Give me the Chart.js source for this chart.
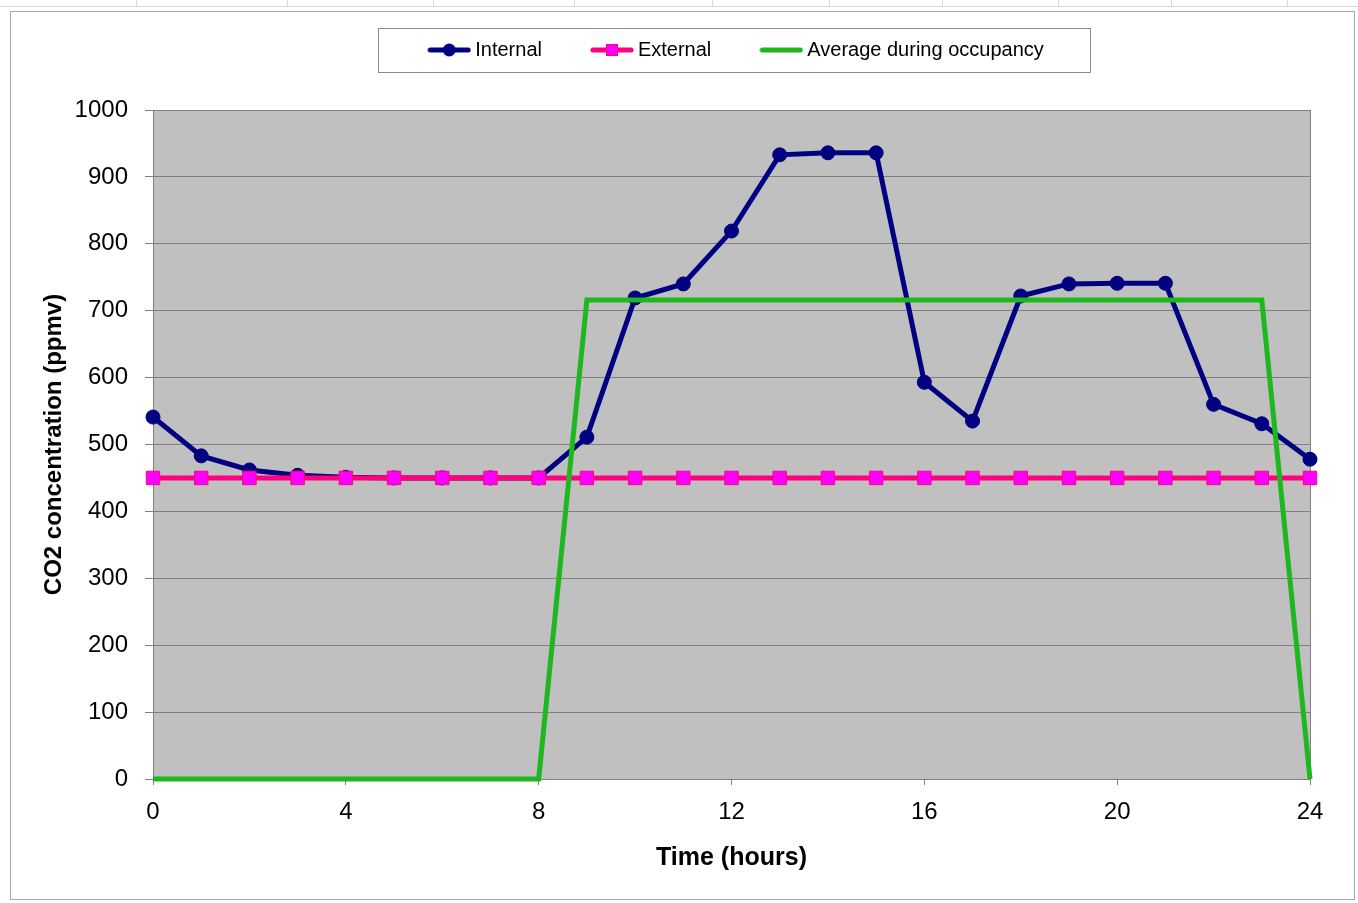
<!DOCTYPE html>
<html>
<head>
<meta charset="utf-8">
<title>CO2 concentration</title>
<script src="https://cdn.jsdelivr.net/npm/chart.js@4.4.0/dist/chart.umd.min.js"></script>
<style>
    html, body { margin: 0; padding: 0; background: #ffffff; }
    #wrap { width: 1358px; height: 903px; }
</style>
</head>
<body>
<div id="wrap"><canvas id="chartcontainer" width="1358" height="903"></canvas></div>
<script>
// values
const hours = [0, 1, 2, 3, 4, 5, 6, 7, 8, 9, 10, 11, 12, 13, 14, 15, 16, 17, 18, 19, 20, 21, 22, 23, 24];
const internal = [541, 483, 462, 454, 451, 450, 450, 450, 450, 511, 719, 740, 819, 933, 936, 936, 593, 535, 722, 740, 741, 741, 560, 531, 478];
const external = [450, 450, 450, 450, 450, 450, 450, 450, 450, 450, 450, 450, 450, 450, 450, 450, 450, 450, 450, 450, 450, 450, 450, 450, 450];
const occupancyAvg = [0, 0, 0, 0, 0, 0, 0, 0, 0, 716, 716, 716, 716, 716, 716, 716, 716, 716, 716, 716, 716, 716, 716, 716, 0];
const seriesNames = ["Internal", "External", "Average during occupancy"];
const xTitle = "Time (hours)";
const yTitle = "CO2 concentration (ppmv)";

const NAVY = "#000080";
const PINK = "#FF0080";
const MAGENTA = "#FF00FF";
const GREEN = "#1DB81D";

Chart.defaults.font.family = "'Liberation Sans', Arial, sans-serif";
Chart.defaults.color = "#000000";

function points(values) {
    return hours.map((h, i) => ({ x: h, y: values[i] }));
}

// legend icons: a short line with the series marker in the middle
function makeIcon(color, marker, fill) {
    const c = document.createElement("canvas");
    c.width = 44;
    c.height = 16;
    const g = c.getContext("2d");
    g.strokeStyle = color;
    g.lineWidth = 5;
    g.lineCap = "round";
    g.beginPath();
    g.moveTo(3, 8);
    g.lineTo(41, 8);
    g.stroke();
    if (marker === "circle") {
        g.fillStyle = color;
        g.beginPath();
        g.arc(22, 8, 6.5, 0, Math.PI * 2);
        g.fill();
    } else if (marker === "rect") {
        g.fillStyle = fill;
        g.fillRect(16, 2, 12, 12);
        g.strokeStyle = color;
        g.lineWidth = 1;
        g.strokeRect(16.5, 2.5, 11, 11);
    }
    return c;
}
const icons = [
    makeIcon(NAVY, "circle"),
    makeIcon(PINK, "rect", MAGENTA),
    makeIcon(GREEN, "none")
];

const pagePlugin = {
    id: "page",
    beforeInit(chart) {
        const fit = chart.legend.fit;
        chart.legend.fit = function () {
            fit.call(this);
            this.height = 110;
        };
    },
    afterLayout(chart) {
        // move the legend row to where it sits in the reference
        chart.legend.left = 167;
        chart.legend.right = 1310;
        chart.legend.top = -14;
    },
    beforeDraw(chart) {
        const ctx = chart.ctx;
        const a = chart.chartArea;
        ctx.save();
        ctx.fillStyle = "#ffffff";
        ctx.fillRect(0, 0, chart.width, chart.height);
        // sheet strip at the very top
        ctx.strokeStyle = "#d8d8d8";
        ctx.lineWidth = 1;
        ctx.beginPath();
        ctx.moveTo(0, 6.5);
        ctx.lineTo(chart.width, 6.5);
        [136, 287, 433, 574, 712, 829, 942, 1058, 1171, 1287].forEach(x => {
            ctx.moveTo(x + 0.5, 0);
            ctx.lineTo(x + 0.5, 7);
        });
        ctx.stroke();
        // outer frame
        ctx.strokeStyle = "#a8a8a8";
        ctx.strokeRect(10.5, 11.5, 1344, 888);
        // plot area
        ctx.fillStyle = "#C0C0C0";
        ctx.fillRect(a.left, a.top, a.right - a.left, a.bottom - a.top);
        ctx.restore();
    },
    beforeDatasetsDraw(chart) {
        const ctx = chart.ctx;
        const a = chart.chartArea;
        ctx.save();
        ctx.strokeStyle = "#808080";
        ctx.lineWidth = 1;
        ctx.strokeRect(a.left + 0.5, a.top + 0.5, a.right - a.left, a.bottom - a.top);
        ctx.restore();
    },
    afterDraw(chart) {
        const lg = chart.legend;
        const pad = lg.options.labels.padding;
        const lineW = lg.lineWidths[0];
        const start = (lg.left + pad + lg.right - lineW) / 2;
        const ctx = chart.ctx;
        ctx.save();
        ctx.strokeStyle = "#8c8c8c";
        ctx.lineWidth = 1;
        ctx.strokeRect(Math.round(start - 55) + 0.5, 28.5, Math.round(lineW - pad + 101), 44);
        ctx.restore();
    }
};

const options = {
    type: "scatter",
    data: {
        datasets: [
            {
                label: seriesNames[0],
                data: points(internal),
                showLine: true,
                borderColor: NAVY,
                backgroundColor: NAVY,
                borderWidth: 5,
                pointStyle: "circle",
                pointRadius: 7,
                pointBorderWidth: 1,
                clip: false,
                order: 3
            },
            {
                label: seriesNames[1],
                data: points(external),
                showLine: true,
                borderColor: PINK,
                backgroundColor: MAGENTA,
                borderWidth: 5,
                pointStyle: "rect",
                pointRadius: 9.5,
                pointBorderWidth: 1,
                pointBorderColor: PINK,
                clip: false,
                order: 2
            },
            {
                label: seriesNames[2],
                data: points(occupancyAvg),
                showLine: true,
                borderColor: GREEN,
                backgroundColor: GREEN,
                borderWidth: 5,
                pointRadius: 0,
                clip: false,
                order: 1
            }
        ]
    },
    options: {
        responsive: false,
        animation: false,
        devicePixelRatio: 1,
        layout: {
            padding: { left: 36, right: 48, top: 0, bottom: 26 }
        },
        scales: {
            x: {
                type: "linear",
                min: 0,
                max: 24,
                afterFit: s => { s.height = 98; },
                ticks: { stepSize: 4, font: { size: 24 }, color: "#000", padding: 13 },
                grid: { drawOnChartArea: false, color: "#808080", tickLength: 6 },
                border: { color: "#808080" },
                title: { display: true, text: xTitle, font: { size: 25, weight: "bold" }, color: "#000", padding: { top: 4, bottom: 4 } }
            },
            y: {
                min: 0,
                max: 1000,
                afterFit: s => { s.width = 117; },
                ticks: { stepSize: 100, font: { size: 24 }, color: "#000", padding: 17, callback: v => String(v) },
                grid: { color: "#808080", tickLength: 8 },
                border: { color: "#808080" },
                title: { display: true, text: yTitle, font: { size: 24, weight: "bold" }, color: "#000", padding: { top: 4, bottom: 4 } }
            }
        },
        plugins: {
            tooltip: { enabled: false },
            legend: {
                position: "top",
                labels: {
                    usePointStyle: true,
                    pointStyleWidth: 32,
                    padding: 54,
                    font: { size: 20 },
                    color: "#000",
                    sort: (a, b) => a.datasetIndex - b.datasetIndex,
                    generateLabels: chart =>
                        Chart.defaults.plugins.legend.labels.generateLabels(chart).map(l => ({
                            ...l,
                            pointStyle: icons[l.datasetIndex]
                        }))
                }
            }
        }
    },
    plugins: [pagePlugin]
};

const ctx = document.getElementById("chartcontainer").getContext("2d");
const chart = new Chart(ctx, options);
</script>
</body>
</html>
